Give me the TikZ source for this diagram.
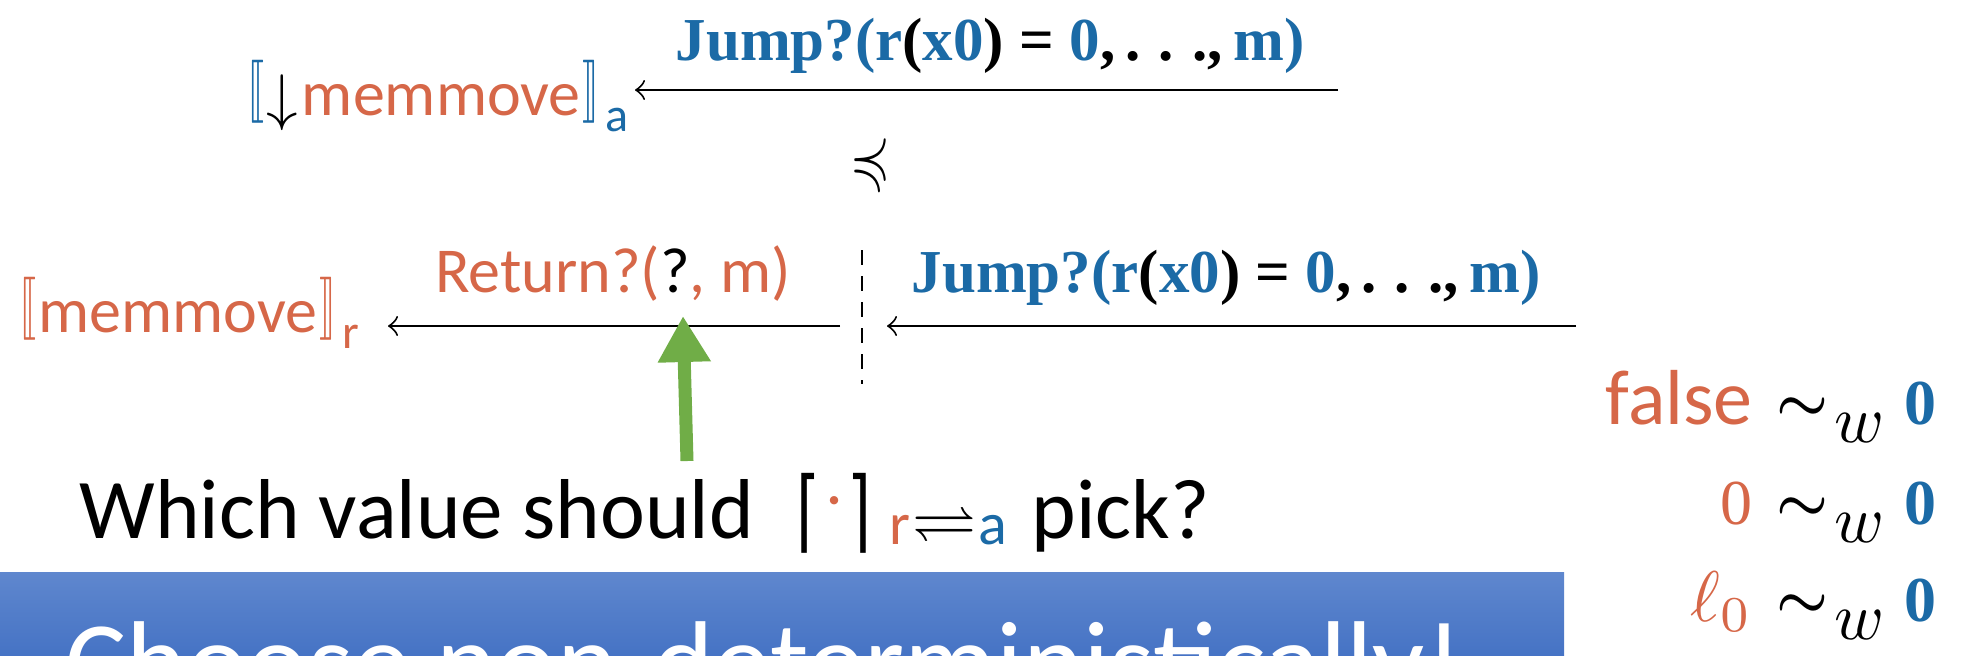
\documentclass[tikz,border=0pt]{standalone}
\usepackage{fontspec}
\usepackage{graphicx}
\usepackage{amssymb}
\usepackage{stmaryrd}
\setmainfont{Liberation Serif}
\newfontfamily\calfont{Carlito}
\newfontfamily\djvfont{DejaVu Sans}
\usetikzlibrary{arrows.meta}
\definecolor{jblue}{RGB}{27,106,166}
\definecolor{rorange}{RGB}{214,103,72}
\definecolor{ggreen}{RGB}{112,173,71}
\definecolor{bantop}{RGB}{95,135,206}
\definecolor{banbot}{RGB}{68,114,196}
\newcommand\mw[2]{\resizebox{#1}{!}{\fontsize{10}{12}\selectfont$#2$}}
\newcommand\jumptext{{\color{jblue}Jump?(r}(\textcolor{jblue}{x0}) = \textcolor{jblue}{0},\,.\kern.3em.\kern.3em.,\,\textcolor{jblue}{m)}}
\newcommand\lbrk{\raisebox{3.9pt}{\resizebox*{8.5pt}{31.5pt}{$\llbracket$}}}
\newcommand\rbrk{\raisebox{3.9pt}{\resizebox*{8.5pt}{31.5pt}{$\rrbracket$}}}
\newcommand\simw[1]{#1\kern12pt\raisebox{2pt}{\mw{26pt}{\boldsymbol{\sim}}}\kern3pt\raisebox{-9pt}{\mw{25pt}{w}}\kern10pt{\fontsize{32}{32}\selectfont\bfseries\color{jblue}0}}
\usepackage{amsmath}
\tikzset{
  jumpst/.style={font=\fontsize{30.5}{30.5}\selectfont\bfseries, inner sep=0pt},
  sansst/.style={font=\calfont\fontsize{32}{32}\selectfont, inner sep=0pt},
  relst/.style={font=\fontsize{32}{32}\selectfont, inner sep=0pt},
  arr/.style={line width=1pt, -{Classical TikZ Rightarrow[length=5pt,width=10pt]}},
  dashst/.style={line width=1pt, dash pattern=on 7.5pt off 5.5pt},
  garrow/.style={ggreen, line width=6.5pt, -{Triangle[length=23pt,width=25pt]}},
}
\begin{document}
\begin{tikzpicture}[x=0.5pt,y=-0.5pt]
\clip (0,0) rectangle (1965,655);
% top row
\node[sansst, anchor=base west] (mema) at (247,115)
  {{\color{jblue}\lbrk}\kern1pt\raisebox{-1.5pt}{\resizebox*{!}{28pt}{$\downarrow$}}\kern2pt{\color{rorange}memmove}\kern1pt{\color{jblue}\rbrk\kern3pt\raisebox{-0.25em}{\fontsize{24}{24}\selectfont a}}};
\node[jumpst, anchor=base] (jtop) at (990,60) {\jumptext};
\coordinate (ta1) at (1338,90);
\coordinate (ta0) at (635,90);
\draw[arr] (ta1) -- (ta0);
\node[inner sep=0pt] (prec) at (870,163) {\resizebox{20pt}{23.5pt}{$\preccurlyeq$}};
% middle row
\node[sansst, anchor=base west] (memr) at (19,332)
  {\color{rorange}\lbrk\kern1pt memmove\kern1pt\rbrk\kern3pt\raisebox{-0.25em}{\fontsize{24}{24}\selectfont r}};
\node[sansst, anchor=base] (ret) at (613,292)
  {\color{rorange}Return?(\textcolor{black}{?}, m)};
\node[jumpst, anchor=base] (jmid) at (1226,292) {\jumptext};
\coordinate (la1) at (840,326);
\coordinate (la0) at (388,326);
\draw[arr] (la1) -- (la0);
\coordinate (ra1) at (1576,326);
\coordinate (ra0) at (887,326);
\draw[arr] (ra1) -- (ra0);
\coordinate (d0) at (862,250);
\coordinate (d1) at (862,384);
\draw[dashst] (d0) -- (d1);
% question
\node[font=\calfont\fontsize{42.5}{42.5}\selectfont, inner sep=0pt, anchor=base west] (which) at (79,538)
  {Which value should\kern21pt\raisebox{-1.5pt}{\resizebox*{12pt}{40pt}{\djvfont ⌈}}\kern1.5pt\raisebox{9pt}{\textcolor{rorange}{\mw{11pt}{\cdot}}}\kern1pt\raisebox{-1.5pt}{\resizebox*{12pt}{40pt}{\djvfont ⌉}}\kern9pt\raisebox{-3pt}{\fontsize{30}{30}\selectfont\textcolor{rorange}{r}\kern1pt\raisebox{2pt}{\mw{32pt}{\rightleftharpoons}}\kern1pt\textcolor{jblue}{a}}\kern12.5pt pick?};
\coordinate (gtail) at (687,461);
\coordinate (gtip) at (683,316);
\draw[garrow] (gtail) -- (gtip);
% banner
\fill[top color=bantop, bottom color=banbot] (0,572) rectangle (1564,660);
\node[font=\calfont\fontsize{57.5}{57.5}\selectfont, text=white, inner sep=0pt, anchor=base west] (ban) at (65,701)
  {Choose non-deterministically!};
% right column
\node[relst, anchor=base east] (r1) at (1937,424)
  {\simw{\textcolor{rorange}{\calfont\fontsize{39}{39}\selectfont false}}};
\node[relst, anchor=base east] (r2) at (1937,524)
  {\simw{\textcolor{rorange}{0}}};
\node[relst, anchor=base east] (r3) at (1937,621)
  {\simw{\textcolor{rorange}{\mw{31pt}{\ell_0}}}};
\end{tikzpicture}
\end{document}
